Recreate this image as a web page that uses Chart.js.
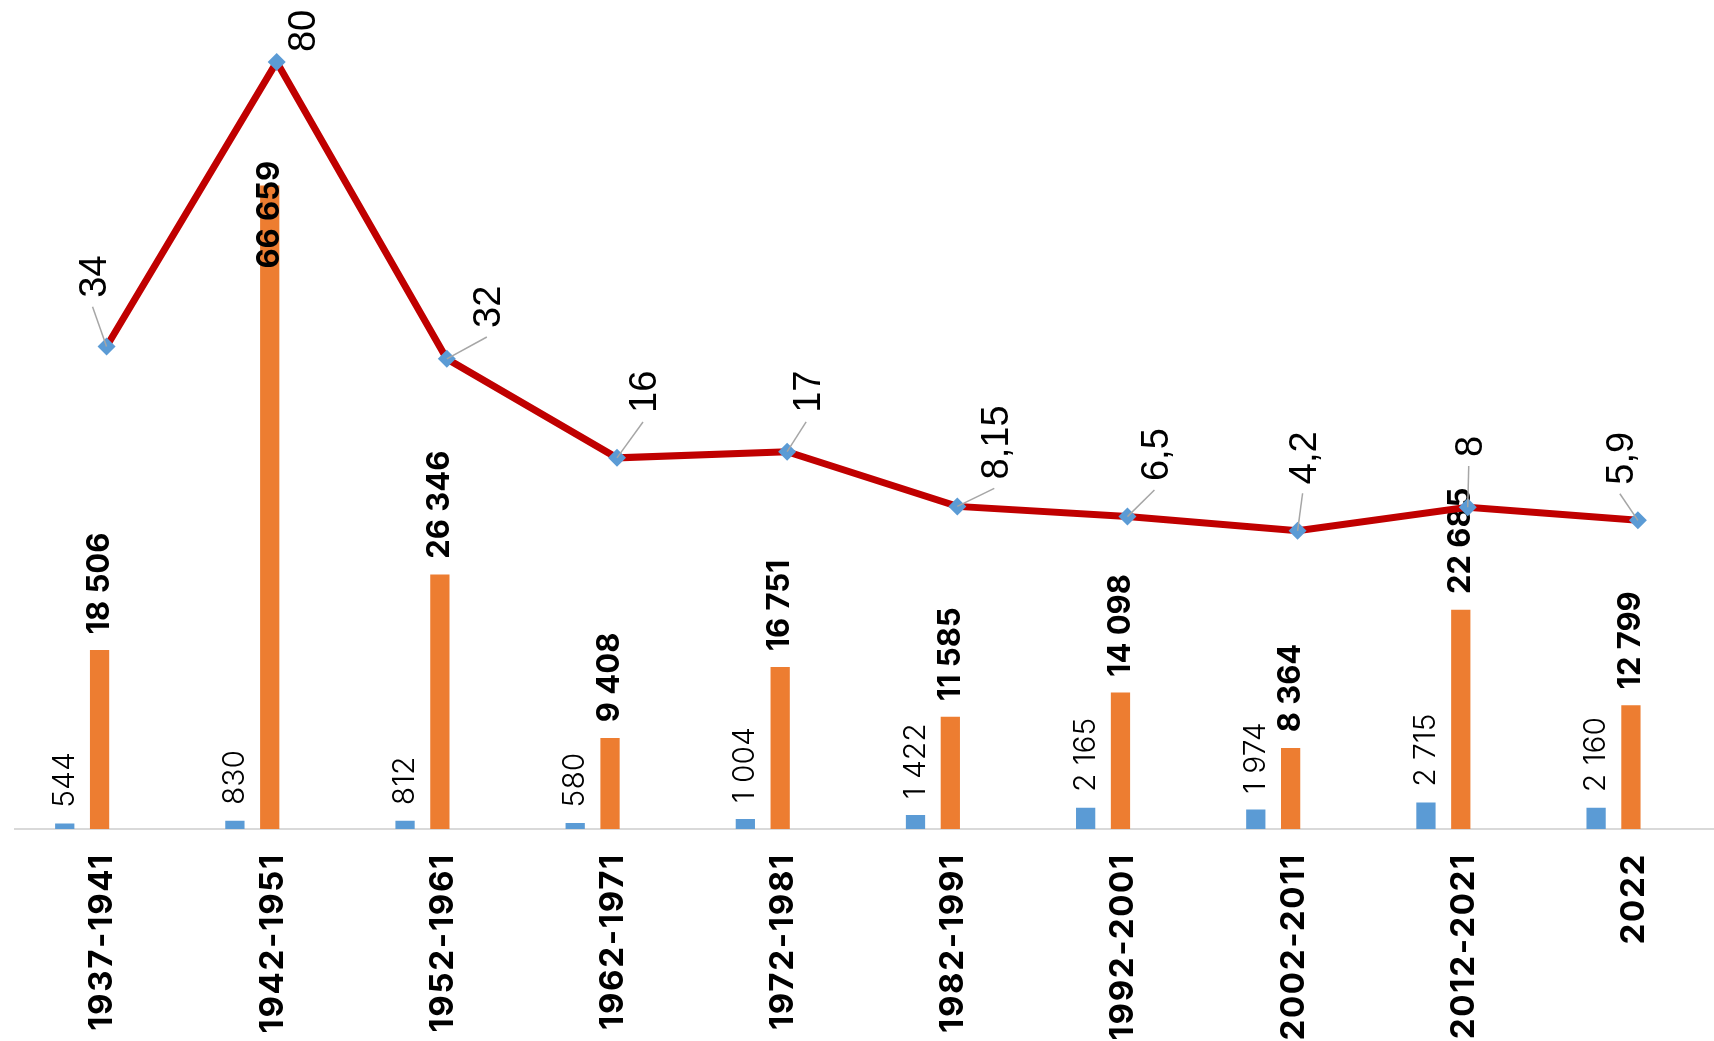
<!DOCTYPE html>
<html>
<head>
<meta charset="utf-8">
<script src="https://cdn.jsdelivr.net/npm/chart.js@4.4.1/dist/chart.umd.min.js"></script>
<style>
  html, body { margin: 0; padding: 0; background: #fff; overflow: hidden; }
  #wrap { width: 1725px; height: 1041px; }
</style>
</head>
<body>
<div id="wrap"><canvas id="chart" width="1725" height="1041"></canvas></div>
<script>
// categories
var periods = ['1937-1941', '1942-1951', '1952-1961', '1962-1971', '1972-1981',
               '1982-1991', '1992-2001', '2002-2011', '2012-2021', '2022'];
// blue bars
var smallSeries = [544, 830, 812, 580, 1004, 1422, 2165, 1974, 2715, 2160];
// orange bars
var bigSeries = [18506, 66659, 26346, 9408, 16751, 11585, 14098, 8364, 22685, 12799];
// red line
var ratio = [34, 80, 32, 16, 17, 8.15, 6.5, 4.2, 8, 5.9];

// where each line label sits, relative to its point (px)
var ratioLabelShift = [[-11, -70], [28, -31], [43, -52], [29, -66], [22, -60],
                       [40, -64], [30, -62], [8, -73], [4, -61], [-15, -62]];

function fmt(v) {
    var s = String(v).replace('.', ',');
    var parts = s.split(',');
    parts[0] = parts[0].replace(/\B(?=(\d{3})+(?!\d))/g, ' ');
    return parts.join(',');
}

var barLabels = {
    id: 'barLabels',
    beforeDraw: function(chart) {
        // wider tracking for the period labels
        chart.ctx.letterSpacing = '1.7px';
    },
    afterDatasetDraw: function(chart, args) {
        var i = args.index;
        if (i > 1) return;
        var ctx = chart.ctx;
        var meta = chart.getDatasetMeta(i);
        var values = i === 0 ? smallSeries : bigSeries;
        ctx.save();
        ctx.letterSpacing = '0px';
        ctx.fillStyle = '#000';
        ctx.font = (i === 0 ? '300 30px Inter' : '700 31px Inter');
        ctx.textBaseline = 'middle';
        meta.data.forEach(function(bar, j) {
            var txt = fmt(values[j]);
            var w = ctx.measureText(txt).width;
            ctx.save();
            // no room above -> centre it just under the bar end
            if (bar.y - 16 - w < chart.chartArea.top + 60) {
                ctx.translate(bar.x, bar.y + 29);
                ctx.rotate(-Math.PI / 2);
                ctx.textAlign = 'center';
            } else {
                ctx.translate(bar.x, bar.y - 16);
                ctx.rotate(-Math.PI / 2);
                ctx.textAlign = 'left';
            }
            ctx.fillText(txt, 0, 0);
            ctx.restore();
        });
        ctx.restore();
    },
    afterDatasetsDraw: function(chart) {
        var ctx = chart.ctx;
        var meta = chart.getDatasetMeta(2);
        ctx.save();
        ctx.letterSpacing = '0px';
        ctx.font = '38px "Liberation Sans"';
        ctx.textBaseline = 'middle';
        ctx.textAlign = 'center';
        meta.data.forEach(function(pt, j) {
            var txt = fmt(ratio[j]);
            var w = ctx.measureText(txt).width;
            var cx = pt.x + ratioLabelShift[j][0];
            var cy = pt.y + ratioLabelShift[j][1];
            var end = cy + w / 2;
            if (pt.y - end > 15) {
                ctx.strokeStyle = '#A6A6A6';
                ctx.lineWidth = 1.5;
                ctx.beginPath();
                ctx.moveTo(cx - 3, end + 9);
                ctx.lineTo(pt.x, pt.y);
                ctx.stroke();
            }
            ctx.save();
            ctx.translate(cx, cy);
            ctx.rotate(-Math.PI / 2);
            ctx.fillStyle = '#000';
            ctx.fillText(txt, 0, 0);
            ctx.restore();
        });
        ctx.restore();
    }
};

// blue bars sit 35px left of the category centre, the line 7px right of it
var catW = 171;
var ctx = document.getElementById('chart').getContext('2d');
var chart = new Chart(ctx, {
    type: 'bar',
    data: {
        labels: periods,
        datasets: [
            { data: smallSeries.map(function(v, i) { return {x: i, y: v}; }),
              xAxisID: 'xb', backgroundColor: '#5B9BD5', order: 1,
              grouped: false, barThickness: 18.6 },
            { data: bigSeries, backgroundColor: '#ED7D31', order: 1,
              grouped: false, barThickness: 18.6 },
            { type: 'line', data: ratio.map(function(v, i) { return {x: i, y: v}; }),
              xAxisID: 'xl', yAxisID: 'y2', order: 0,
              borderColor: '#C00000', borderWidth: 7, tension: 0,
              pointStyle: 'rectRot', pointRadius: 9, pointBackgroundColor: '#5B9BD5',
              pointBorderColor: '#5B9BD5', pointBorderWidth: 0, clip: false }
        ]
    },
    options: {
        responsive: false,
        animation: false,
        devicePixelRatio: 1,
        layout: { padding: { top: 57, left: 14.5, right: 0, bottom: 0 } },
        plugins: { legend: { display: false }, tooltip: { enabled: false } },
        scales: {
            x: {
                grid: { display: false, drawTicks: false },
                border: { display: true, color: '#D9D9D9', width: 2 },
                ticks: {
                    minRotation: 90, maxRotation: 90, padding: 24, autoSkip: false,
                    labelOffset: 3,
                    color: '#000', font: { family: 'Inter', weight: '700', size: 33 }
                },
                afterFit: function(scale) { scale.height = 212; }
            },
            xb: { type: 'linear', display: false, offset: false,
                  min: -0.5 + 35 / catW, max: 9.5 + 35 / catW },
            xl: { type: 'linear', display: false, offset: false,
                  min: -0.5 - 7 / catW, max: 9.5 - 7 / catW },
            y: { display: false, min: 0, max: 80000 },
            y2: { display: false, min: -44, max: 80.8 }
        }
    },
    plugins: [barLabels]
});
</script>
</body>
</html>
